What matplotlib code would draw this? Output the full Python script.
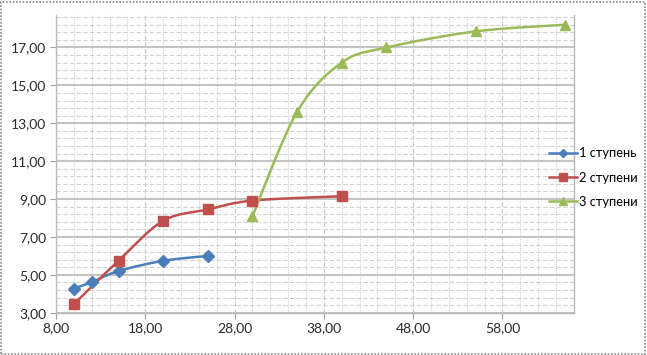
import numpy as np
import matplotlib
matplotlib.use("Agg")
import matplotlib.pyplot as plt
from matplotlib.lines import Line2D
from matplotlib.patches import Rectangle

# ---- data ----
s1_x = [10, 12, 15, 20, 25]
s1_y = [4.28, 4.62, 5.20, 5.74, 6.00]
s2_x = [10, 15, 20, 25, 30, 40]
s2_y = [3.45, 5.75, 7.85, 8.45, 8.92, 9.15]
s3_x = [30, 35, 40, 45, 55, 65]
s3_y = [8.10, 13.60, 16.20, 17.00, 17.85, 18.20]
labels = ["1 ступень", "2 ступени", "3 ступени"]
colors = ["#4A7EBB", "#C0504D", "#9BBB59"]
markers = ["D", "s", "^"]

plt.rcParams['font.family'] = ['Lato', 'DejaVu Sans']

def smooth(xs, ys, n=30):
    P = np.column_stack([xs, ys]).astype(float)
    P_ext = np.vstack([P[0], P, P[-1]])
    out = []
    for i in range(1, len(P_ext) - 2):
        p0, p1, p2, p3 = P_ext[i - 1], P_ext[i], P_ext[i + 1], P_ext[i + 2]
        c1 = p1 + (p2 - p0) / 6.0
        c2 = p2 - (p3 - p1) / 6.0
        t = np.linspace(0, 1, n)[:, None]
        seg = ((1 - t) ** 3) * p1 + 3 * ((1 - t) ** 2) * t * c1 + 3 * (1 - t) * t ** 2 * c2 + t ** 3 * p2
        out.append(seg if i == 1 else seg[1:])
    arr = np.vstack(out)
    return arr[:, 0], arr[:, 1]

fig = plt.figure(figsize=(6.47, 3.55), dpi=100)
ax = fig.add_axes([0.0866, 0.119, 0.887 - 0.0866, 0.957 - 0.119])

ax.set_xlim(8, 66)
ax.set_ylim(3, 18.7)
ax.set_xticks(np.arange(8, 60, 10))
ax.set_xticks(np.arange(8, 66.1, 2), minor=True)
ax.set_yticks(np.arange(3, 18, 2))
ax.set_yticks(np.arange(3, 18.8, 0.4), minor=True)
ax.set_xticklabels([f"{v:.2f}".replace('.', ',') for v in np.arange(8, 60, 10)])
ax.set_yticklabels([f"{v:.2f}".replace('.', ',') for v in np.arange(3, 18, 2)])

ax.grid(which='major', axis='y', color='#C4C4C4', lw=1.5, ls='-')
ax.grid(which='minor', axis='y', color='#D2D2D2', lw=0.8, ls=(0, (4, 2)))
ax.grid(which='major', axis='x', color='#C8C8C8', lw=0.8, ls=(0, (4, 2)))
ax.grid(which='minor', axis='x', color='#D2D2D2', lw=0.8, ls=(0, (1, 1)))
ax.set_axisbelow(True)

ax.tick_params(which='minor', length=0)
ax.tick_params(which='major', length=4, color='#A0A0A0', labelsize=10, labelcolor='#2A2A2A', pad=3)
ax.spines['top'].set_visible(False)
for sp in ['left', 'bottom', 'right']:
    ax.spines[sp].set_color('#B8B8B8')
    ax.spines[sp].set_linewidth(1.0)

handles = []
for xs, ys, c, m, lab in zip([s1_x, s2_x, s3_x], [s1_y, s2_y, s3_y], colors, markers, labels):
    sx, sy = smooth(xs, ys)
    ax.plot(sx, sy, color=c, lw=1.8, zorder=3, clip_on=False)
    ms = 6 if m == 'D' else 7.5
    ax.plot(xs, ys, ls='none', marker=m, ms=ms, color=c, mec=c, zorder=4, clip_on=False)
    handles.append(Line2D([0], [0], color=c, lw=1.8, marker=m, ms=ms - 1.5, mec=c, label=lab))

fig.legend(handles=handles, loc='center left', bbox_to_anchor=(0.848, 0.5),
           frameon=False, fontsize=9.3, handlelength=2.2, handletextpad=0.15,
           labelspacing=0.95, borderaxespad=0, borderpad=0)

fig.patches.append(Rectangle((0.002, 0.004), 0.995, 0.99, transform=fig.transFigure,
                             fill=False, ec='#888888', lw=1.2, ls=(0, (1, 1))))

fig.savefig("out.png", dpi=100)
